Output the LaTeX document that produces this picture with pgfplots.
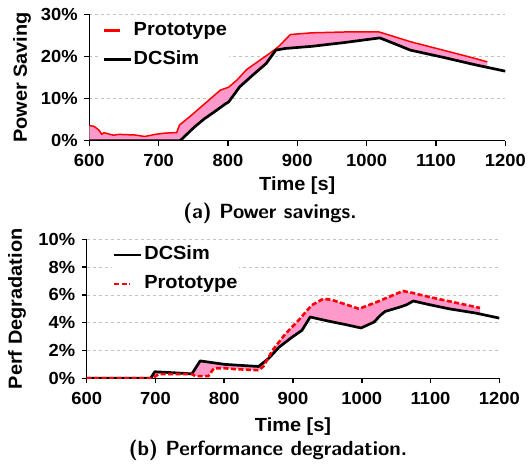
\documentclass[border=0pt]{standalone}
\usepackage{fontspec}
\setmainfont{Liberation Sans}[FakeStretch=1.05]
\usepackage{pgfplots}
\pgfplotsset{compat=1.18}
\usepgfplotslibrary{fillbetween}

\definecolor{fillpink}{RGB}{255,153,204}
\definecolor{gridgray}{RGB}{195,195,195}

\pgfplotsset{
  panel/.style={
    scale only axis,
    xmin=600, xmax=1200,
    xtick={600,700,...,1200},
    ymin=0,
    axis x line*=bottom, axis y line*=left,
    axis line style={line width=1.5pt, black, -},
    tick pos=left,
    tick align=outside,
    major tick length=5pt,
    tick style={line width=1.5pt, black},
    ymajorgrids,
    grid style={dashed, gridgray, line width=0.6pt},
    tick label style={font=\bfseries\fontsize{17.5}{17.5}\selectfont},
    xticklabel style={yshift=-5pt},
    yticklabel style={xshift=-3pt},
    label style={font=\bfseries\fontsize{19}{19}\selectfont},
    ylabel style={anchor=center},
    xlabel style={anchor=center},
    /pgf/number format/assume math mode=true,
    /pgf/number format/1000 sep={},
    yticklabel={\pgfmathprintnumber{\tick}\%},
    xlabel={Time [s]},
    legend cell align=left,
    legend style={draw=none, fill=white, inner sep=1pt, row sep=11pt,
      nodes={inner xsep=1pt, inner ysep=0pt, text height=14pt, text depth=4pt},
      /tikz/every odd column/.append style={column sep=1pt},
      font=\bfseries\fontsize{19}{19}\selectfont},
  },
  blackline/.style={black, line width=2.7pt, line join=round},
  blackimg/.style={legend image code/.code={\draw[black, line width=2.4pt] (0pt,0pt) -- (27pt,0pt);}},
  redimg/.style={legend image code/.code={\draw[red, line width=2.8pt] (0pt,0pt) -- (16pt,0pt); \draw[white, opacity=0] (16pt,0pt) -- (27pt,0pt);}},
}

\begin{document}
\begin{tikzpicture}

% (a) power savings
\begin{axis}[panel,
  name=top,
  at={(89.3pt,-140.7pt)}, anchor=south west,
  width=416pt, height=126.4pt,
  ymax=30, ytick={0,10,20,30},
  ylabel={Power Saving},
  ylabel style={at={(axis description cs:-0.162,0.5)}},
  xlabel style={at={(axis description cs:0.5,0)}, yshift=-45pt},
  legend style={at={(axis description cs:0.028,1.0)}, anchor=north west, yshift=-6pt},
]
\addplot[name path=protoA, red, line width=1.5pt, line join=round, redimg] coordinates {
(600,3.6) (607,3.4) (614,2.5) (618,1.5) (621,1.9) (635,1.3) (643,1.5)
(666,1.35) (680,1.0) (695,1.5) (709,1.8) (722,1.9) (726,1.9) (730,3.7)
(747,6.0) (761,8.0) (775,10.0) (789,12.0) (801,12.7) (813,14.4)
(827,16.9) (846,19.1) (865,21.3) (874,22.5) (890,25.2) (921,25.6)
(968,25.8) (1018,25.8) (1030,25.2) (1063,23.5) (1110,21.5) (1157,19.5) (1174,18.7)
};
\addlegendentry{Prototype}
\addplot[name path=dcsimA, blackline, blackimg] coordinates {
(600,0) (731,0) (752,3.3) (766,5.2) (780,6.8) (796,8.7) (801,9.2)
(817,12.8) (836,15.6) (855,18.3) (869,21.5) (883,21.9) (921,22.4)
(968,23.3) (1019,24.4) (1039,23.1) (1063,21.5) (1110,19.8) (1157,18.0) (1200,16.5)
};
\addlegendentry{DCSim}
% lower edge of the shaded band, ending where Prototype ends
\addplot[name path=edgeA, draw=none, forget plot] coordinates {
(600,0) (731,0) (752,3.3) (766,5.2) (780,6.8) (796,8.7) (801,9.2)
(817,12.8) (836,15.6) (855,18.3) (869,21.5) (883,21.9) (921,22.4)
(968,23.3) (1019,24.4) (1039,23.1) (1063,21.5) (1110,19.8) (1157,18.0) (1174,17.4)
};
\addplot[fillpink, forget plot] fill between[of=protoA and edgeA];
\end{axis}
\node[font=\sffamily\bfseries\fontsize{20.5}{20.5}\selectfont] at (270pt,-213pt) {(a) Power savings.};

% (b) performance degradation
\begin{axis}[panel,
  name=bot,
  at={(86.7pt,-378.3pt)}, anchor=south west,
  width=412.6pt, height=139pt,
  ymax=10, ytick={0,2,...,10},
  ylabel={Perf Degradation},
  ylabel style={at={(axis description cs:-0.169,0.5)}},
  xlabel style={at={(axis description cs:0.5,0)}, yshift=-48.5pt},
  legend style={at={(axis description cs:0.06,1.0)}, anchor=north west, yshift=-5.5pt},
]
\addplot[name path=dcsimB, blackline, blackimg] coordinates {
(600,0) (693,0) (699,0.47) (719,0.42) (753,0.32) (765,1.25) (801,1.0)
(850,0.85) (865,1.45) (880,2.25) (899,2.97) (913,3.45) (925,4.41)
(951,4.12) (975,3.88) (999,3.62) (1018,4.05) (1027,4.53) (1034,4.81)
(1056,5.13) (1065,5.29) (1075,5.56) (1099,5.29) (1127,5.0) (1166,4.69) (1200,4.33)
};
\addlegendentry{DCSim}
\addplot[name path=protoB, red, line width=2.6pt, dash pattern=on 5pt off 2.5pt, redimg] coordinates {
(600,0) (695,0) (705,0.3) (753,0.3) (758,0.16) (777,0.16) (785,0.72)
(801,0.72) (816,0.66) (850,0.58) (857,0.85) (870,2.0) (889,3.2)
(908,4.17) (927,5.25) (944,5.72) (956,5.65) (996,5.0) (1022,5.49)
(1041,5.89) (1060,6.28) (1075,6.13) (1099,5.84) (1132,5.49) (1172,5.06)
};
\addlegendentry{Prototype}
\addplot[name path=edgeB, draw=none, forget plot] coordinates {
(600,0) (693,0) (699,0.47) (719,0.42) (753,0.32) (765,1.25) (801,1.0)
(850,0.85) (865,1.45) (880,2.25) (899,2.97) (913,3.45) (925,4.41)
(951,4.12) (975,3.88) (999,3.62) (1018,4.05) (1027,4.53) (1034,4.81)
(1056,5.13) (1065,5.29) (1075,5.56) (1099,5.29) (1127,5.0) (1166,4.69) (1172,4.64)
};
\addplot[fillpink, forget plot] fill between[of=protoB and edgeB];
\end{axis}
\node[font=\sffamily\bfseries\fontsize{20.5}{20.5}\selectfont] at (268pt,-450pt) {(b) Performance degradation.};
\path (0pt,0pt) rectangle (531pt,-470pt);
\end{tikzpicture}
\end{document}
